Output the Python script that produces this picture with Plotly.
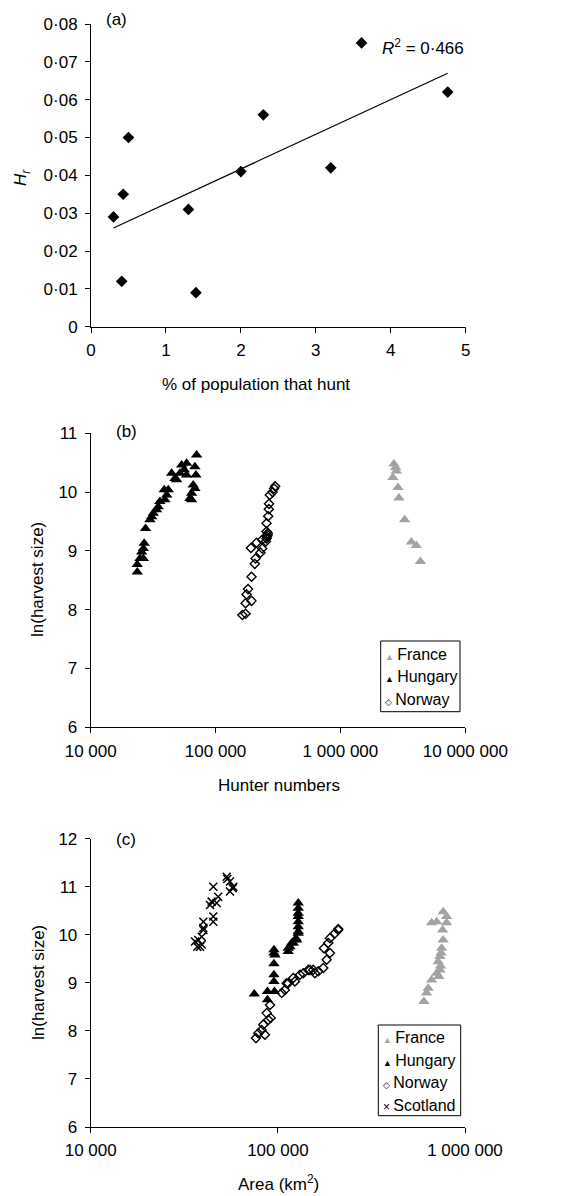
import numpy as np
import plotly.graph_objects as go

# ---------------- data ----------------
# (a)
pct_hunt = [0.30, 0.41, 0.43, 0.50, 1.30, 1.40, 2.00, 2.30, 3.20, 3.61, 4.76]
hr_vals = [0.029, 0.012, 0.035, 0.050, 0.031, 0.009, 0.041, 0.056, 0.042, 0.075, 0.062]
a_xticks = [0, 1, 2, 3, 4, 5]
a_yticks = [0, 0.01, 0.02, 0.03, 0.04, 0.05, 0.06, 0.07, 0.08]
a_yticktext = ["0", "0·01", "0·02", "0·03", "0·04", "0·05", "0·06", "0·07", "0·08"]

# (b) hunter numbers vs ln(harvest size)
b_france_x = [2630000, 2680000, 2770000, 2800000, 2890000, 2940000, 3270000, 3700000, 4050000, 4370000]
b_france_y = [10.25, 10.48, 10.42, 10.36, 10.08, 9.90, 9.53, 9.15, 9.09, 8.82]
b_hungary_x = [23600, 23600, 24800, 26400, 25600, 26400, 26800, 27500, 29800, 30800, 31700, 33700,
               34700, 35800, 39300, 40600, 38800, 41800, 44500, 47300, 48800, 51800, 53500, 56100,
               58600, 58600, 62300, 64300, 64300, 66200, 68300, 68300, 69600, 70500]
b_hungary_y = [8.64, 8.77, 8.87, 8.87, 8.98, 9.04, 9.13, 9.38, 9.53, 9.58, 9.64, 9.70,
               9.75, 9.84, 9.87, 9.95, 10.04, 10.04, 10.32, 10.23, 10.21, 10.32, 10.46, 10.38,
               10.49, 10.29, 9.89, 9.87, 9.98, 10.12, 10.06, 10.43, 10.29, 10.63]
b_norway_x = [164000, 174000, 174000, 194000, 177000, 182000, 194000, 206000, 209000, 192000,
              213000, 229000, 236000, 236000, 253000, 256000, 261000, 256000, 258000, 262000,
              256000, 264000, 267000, 268000, 272000, 286000, 294000, 300000]
b_norway_y = [7.91, 7.93, 8.11, 8.15, 8.26, 8.35, 8.56, 8.78, 8.87, 9.05,
              9.14, 8.97, 9.04, 9.19, 9.16, 9.21, 9.27, 9.33, 9.24, 9.30,
              9.47, 9.59, 9.71, 9.80, 9.95, 10.00, 10.06, 10.10]
b_xticks = [1e4, 1e5, 1e6, 1e7]
b_xticktext = ["10 000", "100 000", "1 000 000", "10 000 000"]
b_yticks = [6, 7, 8, 9, 10, 11]

# (c) area vs ln(harvest size)
c_france_x = [764600, 797400, 797400, 705200, 663100, 759100, 764600, 749900, 734300, 719100,
              734300, 705200, 663100, 636000, 623600, 603200, 740000, 745000, 725000]
c_france_y = [10.48, 10.38, 10.25, 10.27, 10.25, 10.10, 9.89, 9.72, 9.55, 9.44,
              9.27, 9.20, 9.06, 8.89, 8.79, 8.61, 9.35, 9.62, 9.13]
c_hungary_x = [74800, 88000, 88000, 95900, 95300, 95300, 95300, 95300, 95300, 96500,
               113600, 113600, 116000, 120900, 118500, 125000, 126000, 128500, 128500, 128500,
               128500, 128500, 128500, 128500, 128500]
c_hungary_y = [8.77, 8.82, 8.65, 8.82, 9.03, 9.17, 9.40, 9.62, 9.69, 9.58,
               9.65, 9.72, 9.75, 9.83, 9.83, 9.93, 9.89, 10.03, 10.07, 10.17,
               10.27, 10.38, 10.45, 10.55, 10.66]
c_norway_x = [76400, 78600, 81900, 85300, 83600, 88900, 91500, 87200, 90800, 104800,
              109100, 113600, 111400, 120900, 123400, 131300, 136700, 145400, 148500, 154500,
              157800, 164400, 174800, 182300, 189800, 176300, 185900, 189800, 201800, 210200, 210200]
c_norway_y = [7.85, 7.95, 8.02, 7.92, 8.13, 8.23, 8.27, 8.37, 8.54, 8.79,
              8.85, 8.99, 8.99, 9.10, 9.03, 9.17, 9.20, 9.27, 9.27, 9.27,
              9.20, 9.24, 9.31, 9.48, 9.62, 9.72, 9.83, 9.93, 10.03, 10.12, 10.10]
c_scotland_x = [53300, 55500, 57800, 55500, 57400, 53700, 45200, 48000, 47100, 44300, 43400,
                45200, 45200, 40000, 40000, 40000, 39200, 37600, 36100, 38400, 37100, 39200]
c_scotland_y = [11.21, 11.11, 11.00, 10.90, 10.97, 11.16, 11.00, 10.79, 10.66, 10.69, 10.62,
                10.38, 10.27, 10.27, 10.10, 10.14, 9.96, 9.89, 9.86, 9.75, 9.75, 9.80]
c_xticks = [1e4, 1e5, 1e6]
c_xticktext = ["10 000", "100 000", "1 000 000"]
c_yticks = [6, 7, 8, 9, 10, 11, 12]

# ---------------- layout helpers ----------------
# the page body has an 8 px margin, so the figure starts at (8, 8) in the window
OFF = 8
W, H = 574 - OFF, 1196 - OFF
FONT = "Liberation Sans, Arial, sans-serif"
GREY = "#a3a3a3"


def px(x):
    return (x - OFF) / W


def py(y):
    return 1 - (y - OFF) / H


fig = go.Figure()

# (a)
slope, intercept = np.polyfit(pct_hunt, hr_vals, 1)
r2 = np.corrcoef(pct_hunt, hr_vals)[0, 1] ** 2
fit_x = [min(pct_hunt), max(pct_hunt)]
fit_y = [intercept + slope * v for v in fit_x]

fig.add_trace(go.Scatter(x=pct_hunt, y=hr_vals, mode="markers", xaxis="x", yaxis="y",
                         marker=dict(symbol="diamond", size=9, color="black"), showlegend=False))
fig.add_trace(go.Scatter(x=fit_x, y=fit_y, mode="lines", xaxis="x", yaxis="y",
                         line=dict(color="black", width=1.2), showlegend=False))

STY = {
    "France": dict(symbol="triangle-up", size=10, color=GREY),
    "Hungary": dict(symbol="triangle-up", size=10, color="black"),
    "Norway": dict(symbol="diamond-open", size=7, color="black",
                   line=dict(width=1.4, color="black")),
    "Scotland": dict(symbol="x-thin", size=8, color="black",
                     line=dict(width=1.5, color="black")),
}
GLYPH = {
    "France": f'<span style="color:{GREY};font-size:9px">▲</span>',
    "Hungary": '<span style="color:black;font-size:9px">▲</span>',
    "Norway": '<span style="color:black;font-size:9px">◇</span>',
    "Scotland": '<span style="color:black;font-size:12px">×</span>',
}

b_series = [("France", b_france_x, b_france_y), ("Hungary", b_hungary_x, b_hungary_y),
            ("Norway", b_norway_x, b_norway_y)]
c_series = [("France", c_france_x, c_france_y), ("Hungary", c_hungary_x, c_hungary_y),
            ("Norway", c_norway_x, c_norway_y), ("Scotland", c_scotland_x, c_scotland_y)]

for name, xs, ys in b_series:
    fig.add_trace(go.Scatter(x=xs, y=ys, mode="markers", name=name, xaxis="x2", yaxis="y2",
                             marker=STY[name], showlegend=False))
for name, xs, ys in c_series:
    fig.add_trace(go.Scatter(x=xs, y=ys, mode="markers", name=name, xaxis="x3", yaxis="y3",
                             marker=STY[name], showlegend=False))

axis_common = dict(showline=True, linecolor="black", linewidth=1, ticks="outside",
                   ticklen=5, tickwidth=1, tickcolor="black", showgrid=False, zeroline=False,
                   tickfont=dict(family=FONT, size=17, color="black"), mirror=False,
                   automargin=False)
xax = dict(axis_common, ticklabelstandoff=3)
yax = dict(axis_common, ticklabelstandoff=4)

fig.update_layout(
    template="none",
    width=W, height=H,
    margin=dict(l=0, r=0, t=0, b=0),
    paper_bgcolor="white", plot_bgcolor="white",
    font=dict(family=FONT, size=17, color="black"),
    showlegend=False,
    xaxis=dict(domain=[px(91), px(465.7)], range=[0, 5], tickvals=a_xticks,
               anchor="y", **xax),
    yaxis=dict(domain=[py(326.7), py(24)], range=[0, 0.08], tickvals=a_yticks,
               ticktext=a_yticktext, anchor="x", **yax),
    xaxis2=dict(domain=[px(90.7), px(465.3)], type="log", range=[4, 7], tickvals=b_xticks,
                ticktext=b_xticktext, anchor="y2", **xax),
    yaxis2=dict(domain=[py(727.3), py(433.3)], range=[6, 11], tickvals=b_yticks,
                anchor="x2", **yax),
    xaxis3=dict(domain=[px(90.7), px(465)], type="log", range=[4, 6], tickvals=c_xticks,
                ticktext=c_xticktext, anchor="y3", **xax),
    yaxis3=dict(domain=[py(1127), py(838.7)], range=[6, 12], tickvals=c_yticks,
                anchor="x3", **yax),
)

# legend boxes (drawn as a bordered box with real text entries)
shapes = [
    dict(type="rect", xref="paper", yref="paper", x0=px(380.7), x1=px(460),
         y0=py(711.7), y1=py(641), line=dict(color="black", width=1), fillcolor="white"),
    dict(type="rect", xref="paper", yref="paper", x0=px(378.3), x1=px(460.7),
         y0=py(1115.7), y1=py(1025), line=dict(color="black", width=1), fillcolor="white"),
]
fig.update_layout(shapes=shapes)

ann_font = dict(family=FONT, size=17, color="black")
annotations = [
    dict(text="(a)", x=px(104), y=py(20), xanchor="left", yanchor="middle"),
    dict(text="(b)", x=px(114), y=py(432), xanchor="left", yanchor="middle"),
    dict(text="(c)", x=px(114), y=py(839), xanchor="left", yanchor="middle"),
    dict(text="<i>R</i><sup>2</sup> = " + f"{r2:.3f}".replace(".", "·"),
         x=px(466), y=py(47), xanchor="right", yanchor="middle"),
    dict(text="<i>H<sub>r</sub></i>", x=px(22), y=py(178), textangle=-90,
         xanchor="center", yanchor="middle"),
    dict(text="% of population that hunt", x=px(256), y=py(384),
         xanchor="center", yanchor="middle"),
    dict(text="ln(harvest size)", x=px(38), y=py(580), textangle=-90,
         xanchor="center", yanchor="middle"),
    dict(text="Hunter numbers", x=px(279), y=py(785), xanchor="center", yanchor="middle"),
    dict(text="ln(harvest size)", x=px(38), y=py(983), textangle=-90,
         xanchor="center", yanchor="middle"),
    dict(text="Area (km<sup>2</sup>)", x=px(278), y=py(1183), xanchor="center",
         yanchor="middle"),
]
leg_font = dict(family=FONT, size=16, color="black")
for (name, _, _), yy in zip(b_series, [654, 676.5, 699]):
    annotations.append(dict(text=GLYPH[name] + "\u2009" + name, x=px(383), y=py(yy),
                            xanchor="left", yanchor="middle", font=leg_font))
for (name, _, _), yy in zip(c_series, [1037.5, 1060, 1082.5, 1105]):
    annotations.append(dict(text=GLYPH[name] + "\u2009" + name, x=px(381), y=py(yy),
                            xanchor="left", yanchor="middle", font=leg_font))
for a in annotations:
    a.update(xref="paper", yref="paper", showarrow=False)
    a.setdefault("font", ann_font)
fig.update_layout(annotations=annotations)

fig.write_html("out.html")
